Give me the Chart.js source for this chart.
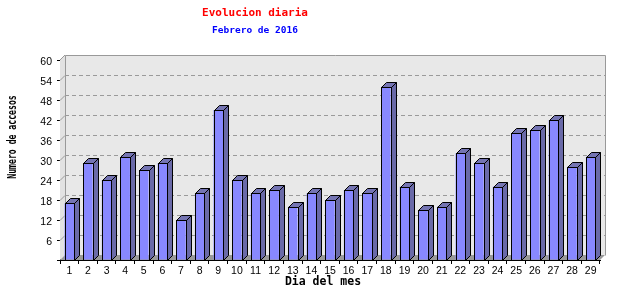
<!DOCTYPE html>
<html><head><meta charset="utf-8">
<script src="https://cdn.jsdelivr.net/npm/chart.js@4.4.1/dist/chart.umd.min.js"></script>
<style>html,body{margin:0;padding:0;background:#fff;}canvas{display:block;}</style>
</head><body>
<canvas id="c" width="640" height="300"></canvas>
<script>
const days = ['1','2','3','4','5','6','7','8','9','10','11','12','13','14','15','16','17','18','19','20','21','22','23','24','25','26','27','28','29'];
const visits = [17,29,24,31,27,29,12,20,45,24,20,21,16,20,18,21,20,52,22,15,16,32,29,22,38,39,42,28,31];
const gridValues = [6,12,18,24,30,36,42,48,54];
const titleText = 'Evolucion diaria';
const subtitleText = 'Febrero de 2016';
const xTitle = 'Dia del mes';
const yTitle = 'Numero de accesos';

const DEPTH = 5;

const box3d = {
  id: 'box3d',
  afterLayout(chart) {
    chart.boxes.forEach(b => {
      if (b.options && (b.options.text === titleText || b.options.text === subtitleText)) {
        b.left = 0; b.right = 510; b.width = 510;
      }
    });
  },
  beforeDatasetsDraw(chart) {
    const {ctx, chartArea: {left, right, top, bottom}, scales: {y}} = chart;
    const d = DEPTH;
    ctx.save();
    ctx.fillStyle = '#e2e2e2';
    ctx.beginPath();
    ctx.moveTo(left, top); ctx.lineTo(left + d, top - d); ctx.lineTo(left + d, bottom - d); ctx.lineTo(left, bottom);
    ctx.closePath(); ctx.fill();
    ctx.fillStyle = '#e8e8e8';
    ctx.fillRect(left + d, top - d, right - left, bottom - top);
    ctx.strokeStyle = '#999999';
    ctx.lineWidth = 1;
    ctx.beginPath();
    ctx.moveTo(Math.round(left + d) + 0.5, Math.round(bottom - d) + 0.5);
    ctx.lineTo(Math.round(left + d) + 0.5, Math.round(top - d) + 0.5);
    ctx.lineTo(Math.round(right + d) + 0.5, Math.round(top - d) + 0.5);
    ctx.lineTo(Math.round(right + d) + 0.5, Math.round(bottom - d) + 0.5);
    ctx.stroke();
    ctx.beginPath();
    ctx.moveTo(left, top); ctx.lineTo(left + d, top - d);
    ctx.stroke();
    ctx.fillStyle = '#999999';
    ctx.beginPath();
    ctx.moveTo(left, bottom); ctx.lineTo(left + d, bottom - d); ctx.lineTo(right + d, bottom - d); ctx.lineTo(right, bottom);
    ctx.closePath(); ctx.fill();
    ctx.strokeStyle = '#9a9a9a';
    gridValues.forEach(v => {
      const py = Math.round(y.getPixelForValue(v)) + 0.5;
      ctx.setLineDash([]);
      ctx.beginPath();
      ctx.moveTo(left, py); ctx.lineTo(left + d, py - d);
      ctx.stroke();
      ctx.setLineDash([4, 3]);
      ctx.beginPath();
      ctx.moveTo(left + d, py - d); ctx.lineTo(right + d, py - d);
      ctx.stroke();
    });
    ctx.restore();
  },
  afterDatasetsDraw(chart) {
    const {ctx} = chart;
    const d = DEPTH;
    const meta = chart.getDatasetMeta(0);
    ctx.save();
    ctx.lineWidth = 1;
    ctx.strokeStyle = '#000000';
    meta.data.forEach(bar => {
      const p = bar.getProps(['x', 'y', 'base', 'width'], true);
      const l = Math.round(p.x - p.width / 2) + 0.5;
      const r = Math.round(p.x + p.width / 2) + 0.5;
      const t = Math.round(p.y) + 0.5;
      const b = Math.round(p.base) + 0.5;
      ctx.fillStyle = '#6a6aa8';
      ctx.beginPath();
      ctx.moveTo(r, t); ctx.lineTo(r + d, t - d); ctx.lineTo(r + d, b - d); ctx.lineTo(r, b);
      ctx.closePath(); ctx.fill(); ctx.stroke();
      ctx.fillStyle = '#7474b2';
      ctx.beginPath();
      ctx.moveTo(l, t); ctx.lineTo(l + d, t - d); ctx.lineTo(r + d, t - d); ctx.lineTo(r, t);
      ctx.closePath(); ctx.fill(); ctx.stroke();
      ctx.strokeRect(l, t, r - l, b - t);
    });
    ctx.restore();
  },
  afterDraw(chart) {
    const {ctx} = chart;
    ctx.save();
    ctx.fillStyle = '#000000';
    ctx.textAlign = 'center';
    ctx.textBaseline = 'middle';
    ctx.font = 'bold 11.5px "DejaVu Sans Mono"';
    ctx.fillText(xTitle, 323, 282);
    ctx.translate(13, 137);
    ctx.rotate(-Math.PI / 2);
    ctx.scale(0.68, 1);
    ctx.font = 'bold 12px "DejaVu Sans Mono"';
    ctx.fillText(yTitle, 0, 0);
    ctx.restore();
  }
};

new Chart(document.getElementById('c'), {
  type: 'bar',
  data: {
    labels: days,
    datasets: [{
      data: visits,
      backgroundColor: '#8888ff',
      borderColor: '#000000',
      borderWidth: 0,
      barPercentage: 0.51,
      categoryPercentage: 1.0
    }]
  },
  options: {
    responsive: false,
    animation: false,
    devicePixelRatio: 1,
    layout: { padding: { left: 0, right: 40, top: 0, bottom: 0 } },
    plugins: {
      legend: { display: false },
      tooltip: { enabled: false },
      title: {
        display: true, text: titleText, color: '#ff0000',
        font: { family: '"DejaVu Sans Mono"', size: 11, weight: 'bold', lineHeight: 1.2 },
        padding: { top: 7, bottom: 2 }
      },
      subtitle: {
        display: true, text: subtitleText, color: '#0000ff',
        font: { family: '"DejaVu Sans Mono"', size: 9.5, weight: 'bold', lineHeight: 1.2 },
        padding: { top: 3, bottom: 23.4 }
      }
    },
    scales: {
      x: {
        afterFit: s => { s.height = 40; },
        grid: { display: true, drawOnChartArea: false, drawTicks: true, tickLength: 4, color: '#000000', offset: true },
        border: { display: true, color: '#000000' },
        ticks: { color: '#000000', font: { family: '"Liberation Sans"', size: 10.5 }, padding: 1, maxRotation: 0, autoSkip: false }
      },
      y: {
        min: 0, max: 60,
        afterFit: s => { s.width = 60; },
        grid: { display: true, drawOnChartArea: false, drawTicks: true, tickLength: 3, color: '#000000' },
        border: { display: true, color: '#000000' },
        ticks: {
          stepSize: 6, color: '#000000', padding: 5, labelOffset: 2.5,
          font: { family: '"Liberation Sans"', size: 10.5 },
          callback: v => (v === 0 ? '' : String(v))
        }
      }
    }
  },
  plugins: [box3d]
});
</script>
</body></html>
